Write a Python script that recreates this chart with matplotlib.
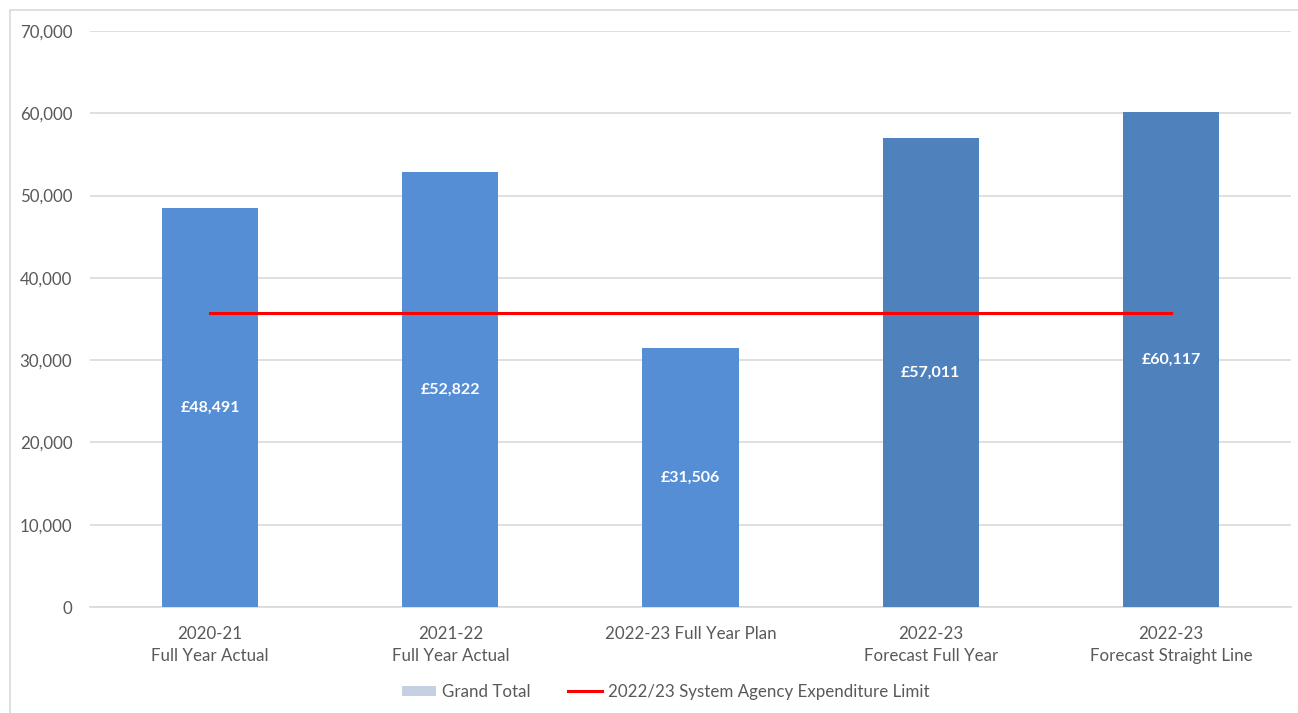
import numpy as np
import matplotlib.pyplot as plt
from matplotlib.patches import Patch, Rectangle
from matplotlib.lines import Line2D

plt.rcParams['font.family'] = ['Lato', 'DejaVu Sans']

# Data
categories = ['2020-21\nFull Year Actual', '2021-22\nFull Year Actual',
              '2022-23 Full Year Plan', '2022-23\nForecast Full Year',
              '2022-23\nForecast Straight Line']
values = [48491, 52822, 31506, 57011, 60117]
limit = 35700
bar_colors = ['#558ED5', '#558ED5', '#558ED5', '#4F81BD', '#4F81BD']

fig = plt.figure(figsize=(12.98, 7.13), dpi=100)
ax = fig.add_axes([90 / 1298, 106 / 713, 1201 / 1298, 576 / 713])

x = np.arange(len(categories))
ax.bar(x, values, width=0.4, color=bar_colors, zorder=3)
ax.plot([x[0], x[-1]], [limit, limit], color='#FF0000', lw=2.2, zorder=4)

for xi, v in zip(x, values):
    ax.text(xi, v / 2, f'£{v:,}', ha='center', va='center', color='white',
            fontsize=11.5, fontweight='bold', zorder=5)

ax.set_xlim(-0.5, len(categories) - 0.5)
ax.set_ylim(0, 70000)
ax.set_yticks(np.arange(0, 70001, 10000))
ax.yaxis.set_major_formatter(plt.FuncFormatter(lambda v, p: f'{int(v):,}'))
ax.set_xticks(x)
ax.set_xticklabels(categories, linespacing=1.45)
ax.tick_params(axis='both', length=0, labelsize=12.2, colors='#595959')
ax.tick_params(axis='y', pad=12.7)
ax.tick_params(axis='x', pad=14)
ax.grid(axis='y', color='#D9D9D9', lw=1.2, zorder=0)
for s in ['top', 'right', 'left']:
    ax.spines[s].set_visible(False)
ax.spines['bottom'].set_color('#D9D9D9')
ax.spines['bottom'].set_linewidth(1.2)

# Chart border
fig.patches.append(Rectangle((10 / 1298, -0.01), 1.0, (703 / 713) + 0.01,
                             transform=fig.transFigure, fill=False,
                             edgecolor='#D9D9D9', lw=1.2))

handles = [Patch(facecolor='#C5D0E3', edgecolor='none', label='Grand Total'),
           Line2D([0], [0], color='#FF0000', lw=2.2,
                  label='2022/23 System Agency Expenditure Limit')]
fig.legend(handles=handles, loc='center',
           bbox_to_anchor=(0.513, 1 - 692 / 713),
           ncol=2, frameon=False, fontsize=12.2, labelcolor='#595959',
           handlelength=2.0, handleheight=0.6, handletextpad=0.35,
           columnspacing=2.2)

fig.savefig('out.png', dpi=100)
